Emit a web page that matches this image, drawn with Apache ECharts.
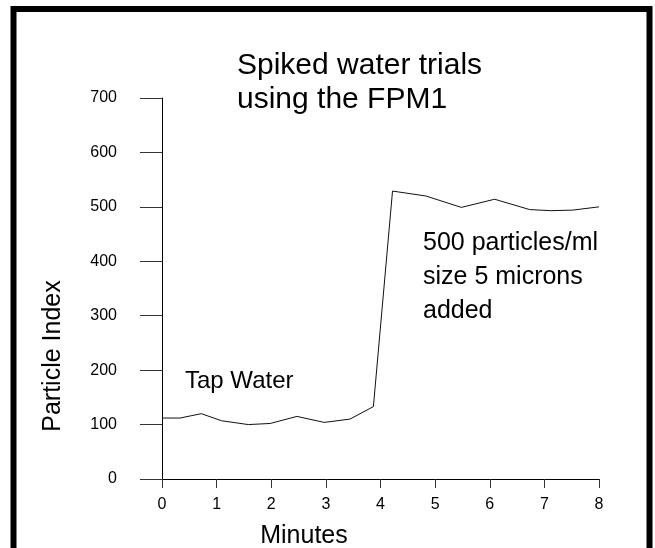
<!DOCTYPE html>
<html>
<head>
<meta charset="utf-8">
<script src="https://cdn.jsdelivr.net/npm/echarts@6/dist/echarts.min.js"></script>
<style>
  html, body { margin: 0; padding: 0; background: #fff; }
  #chart { width: 655px; height: 548px; }
</style>
</head>
<body>
<div id="chart"></div>
<script>
const FONT = '"Liberation Sans", Arial, sans-serif'

// time in minutes and particle index
const minutes = [0, 0.33, 0.72, 1.09, 1.58, 1.98, 2.47, 2.97, 3.44, 3.87, 4.22, 4.83, 5.48, 6.09, 6.73, 7.12, 7.52, 8]
const particleIndex = [112, 112, 120, 107, 100, 102, 115, 104, 110, 133, 529, 520, 499, 514, 495, 493, 494, 500]

const xTicks = [0, 1, 2, 3, 4, 5, 6, 7, 8]
const yTicks = [0, 100, 200, 300, 400, 500, 600, 700]

const titleLines = ['Spiked water trials', 'using the FPM1']
const spikeNote = ['500 particles/ml', 'size 5 microns', 'added']

const myChart = echarts.init(document.getElementById('chart'))

const option = {
  animation: false,
  backgroundColor: '#fff',
  title: {
    text: titleLines.join('\n'),
    left: 237,
    top: 49,
    padding: 0,
    textStyle: { fontFamily: FONT, fontSize: 30, fontWeight: 'normal', color: '#000', lineHeight: 34 }
  },
  grid: { left: 162, top: 98, width: 437, height: 381 },
  xAxis: {
    type: 'value',
    min: xTicks[0],
    max: xTicks[xTicks.length - 1],
    interval: 1,
    splitLine: { show: false },
    axisLine: { lineStyle: { color: '#000', width: 1 } },
    axisTick: { length: 9, lineStyle: { color: '#333' } },
    axisLabel: { margin: 18, color: '#000', fontFamily: FONT, fontSize: 16 }
  },
  yAxis: {
    type: 'value',
    min: yTicks[0],
    max: yTicks[yTicks.length - 1],
    interval: 100,
    splitLine: { show: false },
    axisLine: { show: true, lineStyle: { color: '#000', width: 1 } },
    axisTick: { show: true, length: 22, lineStyle: { color: '#333' } },
    axisLabel: { margin: 45, color: '#000', fontFamily: FONT, fontSize: 16 }
  },
  series: [{
    type: 'line',
    symbol: 'none',
    lineStyle: { color: '#111', width: 1 },
    data: minutes.map((m, i) => [m, particleIndex[i]])
  }],
  graphic: [
    {
      type: 'rect',
      shape: { x: 13.5, y: 9, width: 636, height: 600 },
      style: { fill: null, stroke: '#000', lineWidth: 6 }
    },
    {
      type: 'text', x: 185, y: 381,
      style: { text: 'Tap Water', font: '24px ' + FONT, fill: '#000', verticalAlign: 'middle' }
    },
    {
      type: 'text', x: 423, y: 226,
      style: { text: spikeNote.join('\n'), font: '25px ' + FONT, lineHeight: 34, fill: '#000', verticalAlign: 'top' }
    },
    {
      type: 'text', x: 53, y: 356, rotation: Math.PI / 2,
      style: { text: 'Particle Index', font: '25px ' + FONT, fill: '#000', align: 'center', verticalAlign: 'middle' }
    },
    {
      type: 'text', x: 304, y: 536,
      style: { text: 'Minutes', font: '25px ' + FONT, fill: '#000', align: 'center', verticalAlign: 'middle' }
    }
  ]
}

myChart.setOption(option)
</script>
</body>
</html>
